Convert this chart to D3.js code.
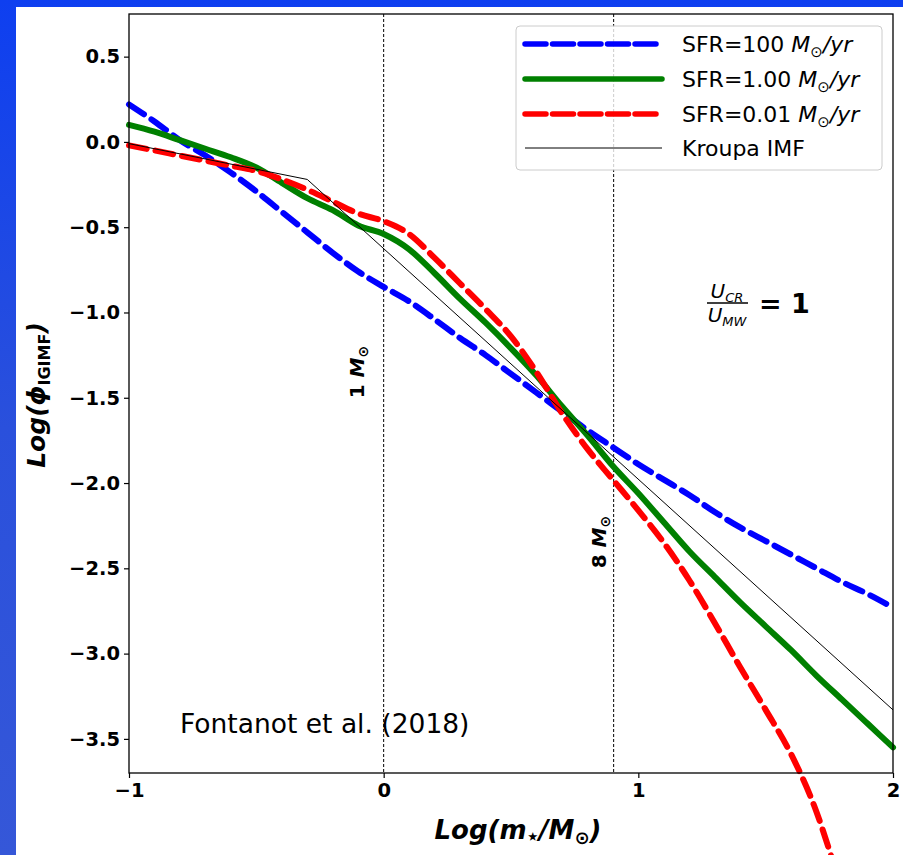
<!DOCTYPE html>
<html><head><meta charset="utf-8">
<script src="https://cdn.jsdelivr.net/npm/d3@7"></script>
<style>body{margin:0;background:#1a45e0;overflow:hidden}</style>
</head><body>
<svg id="chart" width="903" height="855"></svg>
<script>
// ---- data ----
const xGrid = [-1.0,-0.9,-0.8,-0.7,-0.6,-0.5,-0.4,-0.3,-0.2,-0.1,0.0,0.1,0.2,0.3,0.4,0.5,0.6,0.7,0.8,0.9,1.0,1.1,1.2,1.3,1.4,1.5,1.6,1.7,1.8,1.9,2.0];
const sfr100 = [0.22,0.12,0.01,-0.08,-0.18,-0.29,-0.41,-0.53,-0.65,-0.76,-0.85,-0.935,-1.04,-1.15,-1.25,-1.36,-1.47,-1.58,-1.69,-1.79,-1.89,-1.98,-2.07,-2.17,-2.26,-2.34,-2.42,-2.50,-2.58,-2.65,-2.73];
const sfr1 = [0.10,0.06,0.01,-0.04,-0.09,-0.15,-0.24,-0.33,-0.40,-0.49,-0.54,-0.63,-0.77,-0.92,-1.06,-1.21,-1.37,-1.55,-1.72,-1.90,-2.06,-2.23,-2.40,-2.55,-2.70,-2.84,-2.98,-3.13,-3.27,-3.41,-3.55];
const xRed = [-1.0,-0.9,-0.8,-0.7,-0.6,-0.5,-0.4,-0.3,-0.2,-0.1,0.0,0.1,0.2,0.3,0.4,0.5,0.6,0.7,0.8,0.9,1.0,1.1,1.2,1.3,1.4,1.5,1.6,1.7,1.76];
const sfr001 = [-0.02,-0.05,-0.08,-0.11,-0.14,-0.17,-0.22,-0.28,-0.35,-0.42,-0.465,-0.54,-0.68,-0.83,-0.98,-1.14,-1.35,-1.59,-1.80,-1.98,-2.16,-2.35,-2.57,-2.82,-3.08,-3.33,-3.59,-3.93,-4.20];
const xKroupa = [-1.0,-0.3,2.0];
const kroupa = [-0.01,-0.22,-3.33];
const yTicks = [0.5,0.0,-0.5,-1.0,-1.5,-2.0,-2.5,-3.0,-3.5];
const xTicks = [-1,0,1,2];
const vLines = [0, Math.log10(8)];
const seriesNames = ["100","1.00","0.01"];

// ---- layout ----
const svg = d3.select("#chart");
const W = 903, H = 855;
const mL = 129, mR = 893, mT = 14, mB = 773;
const x = d3.scaleLinear().domain([-1,2]).range([mL,mR]);
const y = d3.scaleLinear().domain([-3.7,0.75]).range([mB,mT]);
const fmt = v => (v<0?"\u2212":"") + Math.abs(v).toFixed(1);
const fmtX = v => (v<0?"\u2212":"") + Math.abs(v);

// background
const defs = svg.append("defs");
const g1 = defs.append("linearGradient").attr("id","bg").attr("x1",0).attr("y1",0).attr("x2",0).attr("y2",1);
g1.append("stop").attr("offset","0%").attr("stop-color","#0e3ff0");
g1.append("stop").attr("offset","50%").attr("stop-color","#2a50dc");
g1.append("stop").attr("offset","100%").attr("stop-color","#3557d8");
svg.append("rect").attr("width",W).attr("height",H).attr("fill","url(#bg)");
svg.append("rect").attr("x",16).attr("y",7).attr("width",W-16).attr("height",H-7).attr("fill","#fff");

const FONT = "'DejaVu Sans', sans-serif";

// vertical dashed lines
svg.selectAll(".vl").data(vLines).enter().append("line")
  .attr("x1",d=>x(d)).attr("x2",d=>x(d)).attr("y1",mT).attr("y2",mB)
  .attr("stroke","#000").attr("stroke-width",1).attr("stroke-dasharray","3,2");

// curves
const line = d3.line().x(d=>x(d[0])).y(d=>y(d[1])).curve(d3.curveMonotoneX);
const lineLin = d3.line().x(d=>x(d[0])).y(d=>y(d[1]));
const blueData = xGrid.map((v,i)=>[v,sfr100[i]]);
const greenData = xGrid.map((v,i)=>[v,sfr1[i]]);
const redData = xRed.map((v,i)=>[v,sfr001[i]]);
const kData = xKroupa.map((v,i)=>[v,kroupa[i]]);

svg.append("path").attr("d",line(blueData)).attr("fill","none").attr("stroke","#0000ff")
  .attr("stroke-width",6).attr("stroke-linecap","round").attr("stroke-dasharray","18,9");
svg.append("path").attr("d",line(greenData)).attr("fill","none").attr("stroke","#008000")
  .attr("stroke-width",6).attr("stroke-linecap","round");
svg.append("path").attr("d",line(redData)).attr("fill","none").attr("stroke","#ff0000")
  .attr("stroke-width",6).attr("stroke-linecap","round").attr("stroke-dasharray","18,9");
svg.append("path").attr("d",lineLin(kData)).attr("fill","none").attr("stroke","#000").attr("stroke-width",1);

// frame
svg.append("rect").attr("x",mL).attr("y",mT).attr("width",mR-mL).attr("height",mB-mT)
  .attr("fill","none").attr("stroke","#000").attr("stroke-width",1.3);

// axes
const yAxis = d3.axisLeft(y).tickValues(yTicks).tickFormat(fmt).tickSize(5).tickPadding(4);
const xAxis = d3.axisBottom(x).tickValues(xTicks).tickFormat(fmtX).tickSize(5).tickPadding(5);
const ya = svg.append("g").attr("transform",`translate(${mL},0)`).call(yAxis);
const xa = svg.append("g").attr("transform",`translate(0,${mB})`).call(xAxis);
[ya,xa].forEach(a=>{
  a.select(".domain").remove();
  a.selectAll("line").attr("stroke","#000").attr("stroke-width",1.2);
  a.selectAll("text").attr("font-family",FONT).attr("font-size",19.5).attr("font-weight","bold").attr("fill","#000");
});

// axis titles
const xt = svg.append("text").attr("x",518).attr("y",839).attr("text-anchor","middle")
  .attr("font-family",FONT).attr("font-size",26).attr("font-weight","bold").attr("font-style","italic");
xt.append("tspan").text("Log(m");
xt.append("tspan").text("\u22C6").attr("font-size",20).attr("dy",4).attr("font-style","normal");
xt.append("tspan").text("/M").attr("dy",-4);
xt.append("tspan").text("\u2299").attr("font-size",18).attr("dy",5).attr("font-style","normal");
xt.append("tspan").text(")").attr("dy",-5);

const yt = svg.append("text").attr("transform","translate(45,395) rotate(-90)").attr("text-anchor","middle")
  .attr("font-family",FONT).attr("font-size",25).attr("font-weight","bold").attr("font-style","italic");
yt.append("tspan").text("Log(\u03D5");
yt.append("tspan").text("IGIMF").attr("font-size",16).attr("dy",5).attr("font-style","normal");
yt.append("tspan").text(")").attr("dy",-5);

// vertical labels
function vLabel(xp, yp, num){
  const t = svg.append("text").attr("transform",`translate(${xp},${yp}) rotate(-90)`).attr("text-anchor","middle")
    .attr("font-family",FONT).attr("font-size",20).attr("font-weight","bold");
  t.append("tspan").text(num+" ");
  t.append("tspan").text("M").attr("font-style","italic");
  t.append("tspan").text("\u2299").attr("font-size",14).attr("dy",4);
}
vLabel(364,372,"1");
vLabel(606,542,"8");

// fraction annotation
const fr = svg.append("g").attr("font-family",FONT);
const num = fr.append("text").attr("x",727).attr("y",298).attr("text-anchor","middle").attr("font-size",20).attr("font-style","italic");
num.append("tspan").text("U");
num.append("tspan").text("CR").attr("font-size",13).attr("dy",4);
fr.append("line").attr("x1",707).attr("x2",748).attr("y1",303).attr("y2",303).attr("stroke","#000").attr("stroke-width",1.5);
const den = fr.append("text").attr("x",727).attr("y",322).attr("text-anchor","middle").attr("font-size",20).attr("font-style","italic");
den.append("tspan").text("U");
den.append("tspan").text("MW").attr("font-size",13).attr("dy",4);
fr.append("text").attr("x",759).attr("y",313).attr("font-size",27).attr("font-weight","bold").text("= 1");

// citation
svg.append("text").attr("x",180).attr("y",733).attr("font-family",FONT).attr("font-size",26.5).text("Fontanot et al. (2018)");

// legend
const lg = svg.append("g");
lg.append("rect").attr("x",516).attr("y",26).attr("width",366).attr("height",144).attr("rx",4)
  .attr("fill","#fff").attr("fill-opacity",0.8).attr("stroke","#cccccc").attr("stroke-width",1);
const legItems = [
  {c:"#0000ff", w:5.5, dash:"21,6.5", label:seriesNames[0]},
  {c:"#008000", w:5.5, dash:null, label:seriesNames[1]},
  {c:"#ff0000", w:5.5, dash:"21,6.5", label:seriesNames[2]},
  {c:"#000", w:1, dash:null, label:null}
];
const rowY = [44,79,114,148];
legItems.forEach((it,i)=>{
  const l = lg.append("line").attr("x1",525).attr("x2",662).attr("y1",rowY[i]).attr("y2",rowY[i])
    .attr("stroke",it.c).attr("stroke-width",it.w).attr("stroke-linecap", it.w>2?"round":"butt");
  if(it.dash) l.attr("stroke-dasharray",it.dash);
  const t = lg.append("text").attr("x",682).attr("y",rowY[i]+8).attr("font-family",FONT).attr("font-size",22);
  if(it.label){
    t.append("tspan").text("SFR="+it.label+" ");
    t.append("tspan").text("M").attr("font-style","italic");
    t.append("tspan").text("\u2299").attr("font-size",15).attr("dy",5);
    t.append("tspan").text("/yr").attr("font-style","italic").attr("dy",-5);
  } else {
    t.text("Kroupa IMF");
  }
});
</script>
</body></html>
